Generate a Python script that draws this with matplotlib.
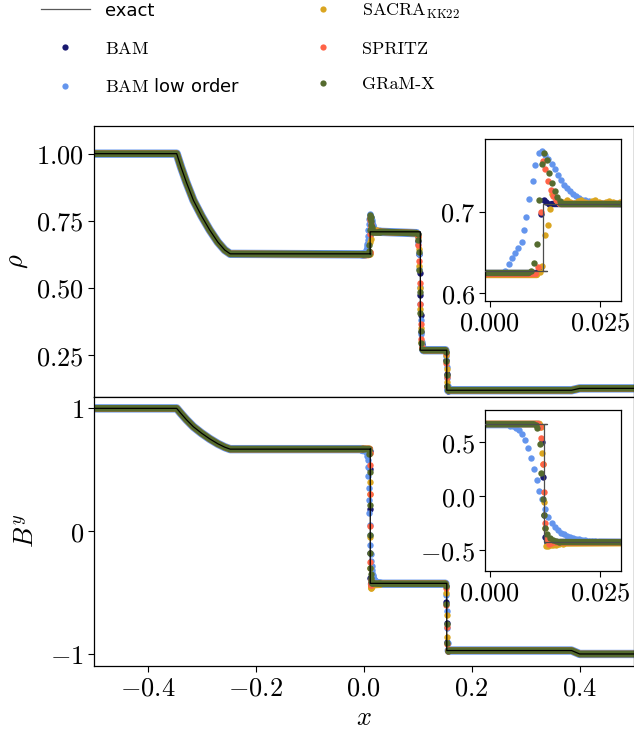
import numpy as np
import matplotlib
matplotlib.use("Agg")
import matplotlib.pyplot as plt
from matplotlib.lines import Line2D
from matplotlib.ticker import FixedLocator, FuncFormatter

plt.rcParams['mathtext.fontset'] = 'cm'
plt.rcParams['font.family'] = ['DejaVu Sans']

nan = float('nan')

# ---------------- data ----------------
series_names = ['BAM', 'BAM low order', 'SACRA', 'SPRITZ', 'GRaM-X']
series_colors = ['#191970', '#6495ED', '#DAA520', '#FF6347', '#556B2F']

# exact solution (density)
exact_rho_x = [-0.5, -0.346, -0.338, -0.328, -0.315, -0.300, -0.285, -0.270, -0.257, -0.247,
               0.0129, 0.0121, 0.0121, 0.105, 0.105, 0.154, 0.154, 0.385, 0.400, 0.5]
exact_rho_y = [1.0, 1.0, 0.950, 0.893, 0.826, 0.768, 0.716, 0.671, 0.641, 0.627,
               0.627, 0.627, 0.709, 0.709, 0.268, 0.268, 0.119, 0.119, 0.126, 0.126]
# exact solution (B^y)
exact_by_x = [-0.5, -0.346, -0.338, -0.328, -0.315, -0.300, -0.285, -0.270, -0.257, -0.247,
              0.0129, 0.0123, 0.0123, 0.154, 0.154, 0.385, 0.400, 0.5]
exact_by_y = [1.0, 1.0, 0.958, 0.908, 0.850, 0.798, 0.752, 0.712, 0.684, 0.668,
              0.668, 0.668, -0.425, -0.425, -0.972, -0.972, -1.0, -1.0]

# smooth parts of the numerical profiles outside the insets (dense dots -> band)
band_rho_x = [-0.5, -0.346, -0.338, -0.328, -0.315, -0.300, -0.285, -0.270, -0.257, -0.247, 0.0, nan,
              0.030, 0.098, nan, 0.111, 0.1515, nan, 0.1565, 0.385, 0.400, 0.5]
band_rho_y = [1.0, 1.0, 0.950, 0.893, 0.826, 0.768, 0.716, 0.671, 0.641, 0.627, 0.625, nan,
              0.709, 0.704, nan, 0.268, 0.268, nan, 0.119, 0.119, 0.126, 0.126]
band_by_x = [-0.5, -0.346, -0.338, -0.328, -0.315, -0.300, -0.285, -0.270, -0.257, -0.247, 0.0, nan,
             0.030, 0.1515, nan, 0.1575, 0.385, 0.400, 0.5]
band_by_y = [1.0, 1.0, 0.958, 0.908, 0.850, 0.798, 0.752, 0.712, 0.684, 0.668, 0.668, nan,
             -0.428, -0.428, nan, -0.972, -0.972, -1.0, -1.0]

# ---- compound wave region (insets): plateau bands + individual points ----
# density
bam_rho_band_x = [-0.002, 0.0106, nan, 0.0140, 0.031]
bam_rho_band_y = [0.625, 0.625, nan, 0.709, 0.709]
bam_rho_x = [0.0111, 0.0116, 0.0122, 0.0128, 0.0134]
bam_rho_y = [0.629, 0.697, 0.714, 0.712, 0.710]

low_rho_band_x = [-0.002, 0.0030, nan, 0.0240, 0.031]
low_rho_band_y = [0.624, 0.624, nan, 0.710, 0.709]
low_rho_x = [0.0035, 0.0043, 0.0050, 0.0058, 0.0065, 0.0072, 0.0077, 0.0082, 0.0089, 0.0097,
             0.0103, 0.0112, 0.0119, 0.0126, 0.0133, 0.0140, 0.0147, 0.0154, 0.0161, 0.0168,
             0.0175, 0.0182, 0.0189, 0.0196, 0.0203, 0.0210, 0.0217, 0.0224, 0.0231, 0.0238]
low_rho_y = [0.628, 0.636, 0.643, 0.649, 0.656, 0.663, 0.678, 0.694, 0.716, 0.738,
             0.757, 0.772, 0.774, 0.770, 0.765, 0.759, 0.752, 0.745, 0.739, 0.733,
             0.729, 0.725, 0.722, 0.719, 0.717, 0.715, 0.714, 0.713, 0.712, 0.711]

sacra_rho_band_x = [-0.002, 0.0108]
sacra_rho_band_y = [0.622, 0.622]
sacra_rho_x = [0.0113, 0.0119, 0.0125, 0.0131, 0.0136, 0.0141, 0.0147, 0.0153, 0.0160, 0.0167,
               0.0175, 0.0183, 0.0191, 0.0199, 0.0207, 0.0215, 0.0223, 0.0231, 0.0239, 0.0247,
               0.0255, 0.0263, 0.0271, 0.0279, 0.0287, 0.0295]
sacra_rho_y = [0.626, 0.634, 0.672, 0.684, 0.703, 0.722, 0.718, 0.713, 0.711, 0.712,
               0.714, 0.712, 0.711, 0.713, 0.714, 0.712, 0.711, 0.713, 0.714, 0.712,
               0.711, 0.712, 0.713, 0.712, 0.711, 0.712]

spritz_rho_band_x = [-0.002, 0.0105, nan, 0.0160, 0.031]
spritz_rho_band_y = [0.624, 0.624, nan, 0.709, 0.709]
spritz_rho_x = [0.0110, 0.0115, 0.0120, 0.0126, 0.0132, 0.0138, 0.0144, 0.0150, 0.0157]
spritz_rho_y = [0.632, 0.700, 0.762, 0.752, 0.738, 0.727, 0.719, 0.714, 0.711]

gramx_rho_band_x = [-0.002, 0.0088, nan, 0.0162, 0.031]
gramx_rho_band_y = [0.625, 0.625, nan, 0.709, 0.709]
gramx_rho_x = [0.0094, 0.0100, 0.0106, 0.0112, 0.0118, 0.0123, 0.0129, 0.0135, 0.0141, 0.0147,
               0.0153, 0.0159]
gramx_rho_y = [0.628, 0.637, 0.660, 0.714, 0.759, 0.772, 0.764, 0.748, 0.735, 0.726,
               0.718, 0.713]

# B^y
bam_by_band_x = [-0.002, 0.0112, nan, 0.0138, 0.031]
bam_by_band_y = [0.668, 0.668, nan, -0.430, -0.430]
bam_by_x = [0.0116, 0.0119, 0.0121, 0.0123, 0.0125, 0.0129, 0.0134]
bam_by_y = [0.655, 0.505, 0.180, -0.177, -0.378, -0.432, -0.436]

low_by_band_x = [-0.002, 0.0040, nan, 0.0248, 0.031]
low_by_band_y = [0.660, 0.660, nan, -0.424, -0.426]
low_by_x = [0.0045, 0.0052, 0.0059, 0.0066, 0.0073, 0.0080, 0.0087, 0.0094, 0.0100, 0.0106,
            0.0112, 0.0119, 0.0126, 0.0133, 0.0140, 0.0147, 0.0154, 0.0161, 0.0168, 0.0175,
            0.0182, 0.0189, 0.0196, 0.0203, 0.0210, 0.0217, 0.0224, 0.0231, 0.0238, 0.0245]
low_by_y = [0.655, 0.648, 0.636, 0.615, 0.580, 0.525, 0.450, 0.355, 0.257, 0.150,
            0.050, -0.030, -0.115, -0.190, -0.245, -0.285, -0.315, -0.338, -0.355, -0.368,
            -0.379, -0.388, -0.395, -0.401, -0.406, -0.410, -0.414, -0.417, -0.419, -0.421]

sacra_by_band_x = [-0.002, 0.0113, nan, 0.0168, 0.031]
sacra_by_band_y = [0.672, 0.672, nan, -0.440, -0.437]
sacra_by_x = [0.0117, 0.0119, 0.0121, 0.0123, 0.0125, 0.0128, 0.0133, 0.0138, 0.0144, 0.0150,
              0.0157, 0.0165]
sacra_by_y = [0.640, 0.397, 0.300, -0.050, -0.300, -0.465, -0.462, -0.458, -0.453, -0.449,
              -0.445, -0.442]

spritz_by_band_x = [-0.002, 0.0110, nan, 0.0143, 0.031]
spritz_by_band_y = [0.670, 0.670, nan, -0.430, -0.428]
spritz_by_x = [0.0114, 0.0117, 0.0120, 0.0123, 0.0126, 0.0129, 0.0134, 0.0139]
spritz_by_y = [0.640, 0.536, 0.300, 0.040, -0.250, -0.400, -0.440, -0.436]

gramx_by_band_x = [-0.002, 0.0100, nan, 0.0160, 0.031]
gramx_by_band_y = [0.668, 0.668, nan, -0.426, -0.428]
gramx_by_x = [0.0104, 0.0108, 0.0113, 0.0117, 0.0120, 0.0123, 0.0126, 0.0130, 0.0136, 0.0143,
              0.0150, 0.0157]
gramx_by_y = [0.662, 0.629, 0.480, 0.217, -0.030, -0.177, -0.300, -0.350, -0.385, -0.405,
              -0.415, -0.421]

# contact discontinuity (density)
contact_x = {
    'BAM':           [0.1005, 0.1015, 0.1025, 0.1035, 0.1045, 0.1055, 0.1065, 0.1075, 0.1085],
    'BAM low order': [0.0990, 0.1000, 0.1010, 0.1020, 0.1030, 0.1040, 0.1050, 0.1060, 0.1070, 0.1080, 0.1095, 0.1105],
    'SACRA':         [0.1010, 0.1020, 0.1030, 0.1040, 0.1050, 0.1060, 0.1070, 0.1080],
    'SPRITZ':        [0.1005, 0.1015, 0.1025, 0.1035, 0.1045, 0.1055, 0.1065, 0.1075],
    'GRaM-X':        [0.1000, 0.1010, 0.1020, 0.1030, 0.1040, 0.1050, 0.1060, 0.1070, 0.1080],
}
contact_rho = {
    'BAM':           [0.700, 0.675, 0.625, 0.555, 0.475, 0.400, 0.335, 0.290, 0.272],
    'BAM low order': [0.702, 0.690, 0.665, 0.625, 0.570, 0.505, 0.440, 0.380, 0.330, 0.300, 0.280, 0.270],
    'SACRA':         [0.690, 0.645, 0.580, 0.500, 0.420, 0.350, 0.300, 0.275],
    'SPRITZ':        [0.695, 0.660, 0.600, 0.520, 0.440, 0.365, 0.310, 0.280],
    'GRaM-X':        [0.700, 0.680, 0.635, 0.565, 0.485, 0.405, 0.340, 0.295, 0.274],
}
# slow shock (density and B^y)
shock_x = {
    'BAM':           [0.1520, 0.1530, 0.1540, 0.1550, 0.1560],
    'BAM low order': [0.1515, 0.1525, 0.1535, 0.1545, 0.1555, 0.1565],
    'SACRA':         [0.1525, 0.1535, 0.1545, 0.1555],
    'SPRITZ':        [0.1520, 0.1530, 0.1540, 0.1550, 0.1560],
    'GRaM-X':        [0.1520, 0.1530, 0.1540, 0.1550, 0.1560],
}
shock_rho = {
    'BAM':           [0.262, 0.232, 0.180, 0.135, 0.118],
    'BAM low order': [0.265, 0.245, 0.205, 0.165, 0.135, 0.121],
    'SACRA':         [0.250, 0.200, 0.150, 0.122],
    'SPRITZ':        [0.258, 0.222, 0.170, 0.130, 0.119],
    'GRaM-X':        [0.260, 0.228, 0.176, 0.133, 0.119],
}
shock_by = {
    'BAM':           [-0.45, -0.58, -0.75, -0.90, -0.975],
    'BAM low order': [-0.44, -0.52, -0.65, -0.79, -0.91, -0.97],
    'SACRA':         [-0.50, -0.68, -0.86, -0.97],
    'SPRITZ':        [-0.46, -0.60, -0.78, -0.92, -0.975],
    'GRaM-X':        [-0.45, -0.59, -0.76, -0.91, -0.975],
}

rho_inset = {
    'BAM': (bam_rho_band_x, bam_rho_band_y, bam_rho_x, bam_rho_y),
    'BAM low order': (low_rho_band_x, low_rho_band_y, low_rho_x, low_rho_y),
    'SACRA': (sacra_rho_band_x, sacra_rho_band_y, sacra_rho_x, sacra_rho_y),
    'SPRITZ': (spritz_rho_band_x, spritz_rho_band_y, spritz_rho_x, spritz_rho_y),
    'GRaM-X': (gramx_rho_band_x, gramx_rho_band_y, gramx_rho_x, gramx_rho_y),
}
by_inset = {
    'BAM': (bam_by_band_x, bam_by_band_y, bam_by_x, bam_by_y),
    'BAM low order': (low_by_band_x, low_by_band_y, low_by_x, low_by_y),
    'SACRA': (sacra_by_band_x, sacra_by_band_y, sacra_by_x, sacra_by_y),
    'SPRITZ': (spritz_by_band_x, spritz_by_band_y, spritz_by_x, spritz_by_y),
    'GRaM-X': (gramx_by_band_x, gramx_by_band_y, gramx_by_x, gramx_by_y),
}

band_width = {'BAM': 4.6, 'BAM low order': 6.0, 'SACRA': 4.6, 'SPRITZ': 4.6, 'GRaM-X': 4.8}

# ---------------- figure ----------------
fig = plt.figure(figsize=(6.34, 7.33), dpi=100)
ax1 = fig.add_axes([0.1475, 0.4588, 0.852, 0.3693])
ax2 = fig.add_axes([0.1475, 0.0914, 0.852, 0.3674])
ins1 = fig.add_axes([0.765, 0.5898, 0.214, 0.2202])
ins2 = fig.add_axes([0.765, 0.221, 0.214, 0.2196])

MS = 4.6
FS = 19

for ax, band_x, band_y, inset, key in [(ax1, band_rho_x, band_rho_y, rho_inset, 'rho'),
                                       (ax2, band_by_x, band_by_y, by_inset, 'by')]:
    for name, col in zip(series_names, series_colors):
        bx, by, ix, iy = inset[name]
        ax.plot(band_x, band_y, '-', color=col, lw=band_width[name], solid_capstyle='round', zorder=2)
        ax.plot(bx, by, '-', color=col, lw=band_width[name], solid_capstyle='round', zorder=2)
        ax.plot(ix, iy, 'o', color=col, ms=MS, mew=0, zorder=2)
        if key == 'rho':
            ax.plot(contact_x[name], contact_rho[name], 'o', color=col, ms=MS, mew=0, zorder=2)
            ax.plot(shock_x[name], shock_rho[name], 'o', color=col, ms=MS, mew=0, zorder=2)
        else:
            ax.plot(shock_x[name], shock_by[name], 'o', color=col, ms=MS, mew=0, zorder=2)

ax1.plot(exact_rho_x, exact_rho_y, '-', color='k', lw=0.9, zorder=3)
ax2.plot(exact_by_x, exact_by_y, '-', color='k', lw=0.9, zorder=3)

for ins, inset, ex, ey in [(ins1, rho_inset, exact_rho_x, exact_rho_y),
                           (ins2, by_inset, exact_by_x, exact_by_y)]:
    for name, col in zip(series_names, series_colors):
        bx, by, ix, iy = inset[name]
        ins.plot(bx, by, '-', color=col, lw=MS, solid_capstyle='round', zorder=2)
        ins.plot(ix, iy, 'o', color=col, ms=MS, mew=0, zorder=2)
    ins.plot(ex, ey, '-', color='0.3', lw=0.9, zorder=3)

# limits
ax1.set_xlim(-0.5, 0.5)
ax2.set_xlim(-0.5, 0.5)
ax1.set_ylim(0.095, 1.103)
ax2.set_ylim(-1.098, 1.095)
ins1.set_xlim(-0.0011, 0.0297)
ins1.set_ylim(0.591, 0.789)
ins2.set_xlim(-0.0011, 0.0297)
ins2.set_ylim(-0.695, 0.80)

def fmt(decimals):
    return FuncFormatter(lambda v, p: '$%.*f$' % (decimals, v))

ax1.yaxis.set_major_locator(FixedLocator([0.25, 0.5, 0.75, 1.0]))
ax1.yaxis.set_major_formatter(fmt(2))
ax1.tick_params(axis='x', bottom=False, labelbottom=False)
ax2.yaxis.set_major_locator(FixedLocator([-1, 0, 1]))
ax2.yaxis.set_major_formatter(fmt(0))
ax2.xaxis.set_major_locator(FixedLocator([-0.4, -0.2, 0.0, 0.2, 0.4]))
ax2.xaxis.set_major_formatter(fmt(1))

ins1.yaxis.set_major_locator(FixedLocator([0.6, 0.7]))
ins1.yaxis.set_major_formatter(fmt(1))
ins2.yaxis.set_major_locator(FixedLocator([-0.5, 0.0, 0.5]))
ins2.yaxis.set_major_formatter(fmt(1))
for ins in (ins1, ins2):
    ins.xaxis.set_major_locator(FixedLocator([0.0, 0.025]))
    ins.xaxis.set_major_formatter(fmt(3))

for a in (ax1, ax2, ins1, ins2):
    a.tick_params(labelsize=FS, length=4, width=0.8, pad=3)
    for s in a.spines.values():
        s.set_linewidth(0.9)

ax1.set_ylabel(r'$\rho$', fontsize=FS, labelpad=4)
ax2.set_ylabel(r'$B^y$', fontsize=FS, labelpad=8)
ax2.set_xlabel(r'$x$', fontsize=FS, labelpad=2)

# legend
handles = [Line2D([], [], color='0.35', lw=0.9)]
for col in series_colors:
    handles.append(Line2D([], [], ls='', marker='o', ms=4.5, mew=0, color=col))
labels = ['exact', r'$\mathrm{BAM}$', r'$\mathrm{BAM}$ low order',
          r'$\mathrm{SACRA}_{\mathrm{KK22}}$', 'SPRITZ', 'GRaM-X']
leg = fig.legend(handles, labels,
                 loc='upper left', bbox_to_anchor=(0.039, 1.02), ncol=2, frameon=False,
                 fontsize=13, handlelength=2.7, handletextpad=0.85, columnspacing=3.2,
                 labelspacing=1.12)
for t in leg.get_texts():
    if t.get_text() in ('SPRITZ', 'GRaM-X'):
        t.set_fontfamily('cmr10')

fig.savefig('out.png', dpi=100)
